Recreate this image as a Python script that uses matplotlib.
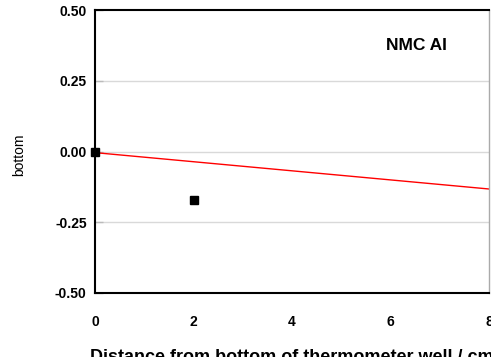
import matplotlib
matplotlib.use("Agg")
import matplotlib.pyplot as plt
import numpy as np

# Data
point_x = [0, 2]
point_y = [0.0, -0.171]
fit_x = [0, 8]
fit_y = [-0.004, -0.1325]
x_ticks = [0, 2, 4, 6, 8]
y_ticks = [-0.50, -0.25, 0.00, 0.25, 0.50]
y_tick_labels = ["-0.50", "-0.25", "0.00", "0.25", "0.50"]

plt.rcParams['font.family'] = ['Liberation Sans', 'DejaVu Sans']

fig = plt.figure(figsize=(4.91, 3.57), dpi=100)
ax = fig.add_axes([95/491, 1 - 293/357, (489-95)/491, (293-10)/357])

for y in [-0.25, 0.0, 0.25]:
    ax.axhline(y, color='#d9d9d9', lw=1.0, zorder=0)

ax.plot(fit_x, fit_y, color='red', lw=1.0, zorder=2)
ax.plot(point_x, point_y, 's', color='black', markersize=6, zorder=3, clip_on=False)

ax.set_xlim(0, 8)
ax.set_ylim(-0.5, 0.5)
ax.set_xticks(x_ticks)
ax.set_xticklabels([str(v) for v in x_ticks], fontweight='bold', fontsize=10)
ax.set_yticks(y_ticks)
ax.set_yticklabels(y_tick_labels, fontweight='bold', fontsize=10)
ax.tick_params(axis='x', length=0, pad=16)
ax.tick_params(axis='y', direction='in', length=6, width=1, color='#bbbbbb', pad=6)

for s in ['left', 'bottom', 'top']:
    ax.spines[s].set_linewidth(1.5)
    ax.spines[s].set_color('black')
ax.spines['right'].set_color('#aaaaaa')
ax.spines['right'].set_linewidth(1.0)

ax.set_xlabel("Distance from bottom of thermometer well / cm", fontweight='bold',
              fontsize=13, labelpad=14)
fig.text(19.5/491, 1 - 155/357, "bottom", rotation=90, fontsize=10,
         ha='center', va='center')
fig.text(416.5/491, 1 - 45/357, "NMC AI", fontweight='bold', fontsize=12.5,
         ha='center', va='center')

fig.savefig("out.png", dpi=100)
